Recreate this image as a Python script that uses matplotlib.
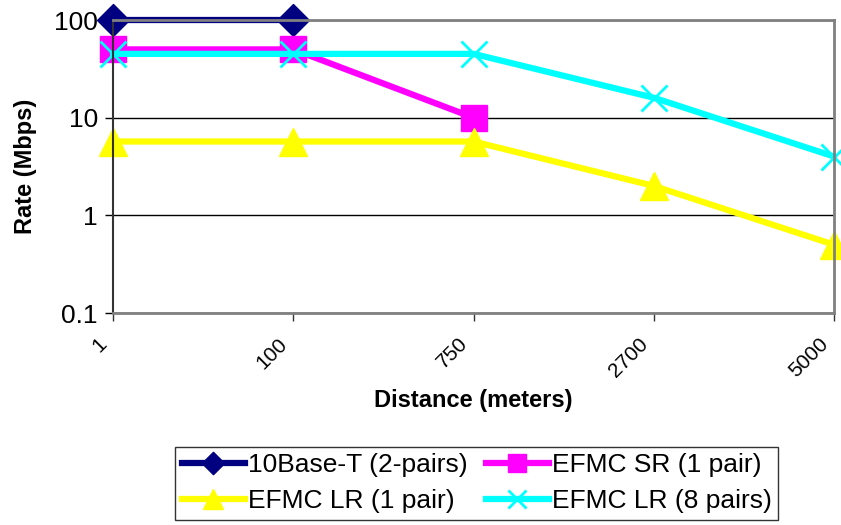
import numpy as np
import matplotlib
matplotlib.use("Agg")
import matplotlib.pyplot as plt
from matplotlib.ticker import FixedLocator, NullLocator
from matplotlib.transforms import ScaledTranslation

plt.rcParams['font.family'] = ['Liberation Sans', 'DejaVu Sans']

# data
distances = ["1", "100", "750", "2700", "5000"]
base_t = [100, 100]
efmc_sr = [50, 50, 10]
efmc_lr1 = [5.7, 5.7, 5.7, 2.0, 0.5]
efmc_lr8 = [45, 45, 45, 16, 4]

labels = ["10Base-T (2-pairs)", "EFMC SR (1 pair)", "EFMC LR (1 pair)", "EFMC LR (8 pairs)"]

fig = plt.figure(figsize=(8.41, 5.25), dpi=100)
ax = fig.add_axes([0.1344, 0.4038, 0.8573, 0.5581])

x = np.arange(len(distances))
diamond = [(-1, 0), (0, 1), (1, 0), (0, -1), (-1, 0)]

l1, = ax.plot(x[:len(base_t)], base_t, color="#000080", lw=4.5, marker=diamond, ms=23,
              clip_on=False, label=labels[0])
l2, = ax.plot(x[:len(efmc_sr)], efmc_sr, color="#FF00FF", lw=4.5, marker="s", ms=19,
              clip_on=False, label=labels[1])
l3, = ax.plot(x, efmc_lr1, color="#FFFF00", lw=4.5, marker="^", ms=20,
              clip_on=False, label=labels[2])
l4, = ax.plot(x, efmc_lr8, color="#00FFFF", lw=4.5, marker="x", ms=19, mew=2,
              clip_on=False, label=labels[3])

ax.set_yscale("log")
ax.set_ylim(0.1, 100)
ax.set_xlim(0, len(distances) - 1)
ax.yaxis.set_major_locator(FixedLocator([0.1, 1, 10, 100]))
ax.yaxis.set_minor_locator(NullLocator())
ax.set_yticklabels(["0.1", "1", "10", "100"])
ax.set_xticks(x)
ax.set_xticklabels(distances, rotation=45, ha="right", va="center",
                   rotation_mode="anchor")

ax.grid(axis="y", color="black", lw=1)
ax.set_axisbelow(True)

for s in ["top", "right", "bottom"]:
    ax.spines[s].set_color("#808080")
    ax.spines[s].set_linewidth(2)
ax.spines["left"].set_color("#333333")
ax.spines["left"].set_linewidth(1.5)

ax.tick_params(axis="y", length=6, width=1, labelsize=19, pad=5)
ax.tick_params(axis="x", length=6, width=1, color="#333333", labelsize=15, pad=14)

# the original labels sit a little left of their ticks (after tick_params, which resets transforms)
shift = ScaledTranslation(-9 / 100, 0, fig.dpi_scale_trans)
for lbl in ax.get_xticklabels():
    lbl.set_transform(lbl.get_transform() + shift)

ax.set_xlabel("Distance (meters)", fontsize=17, fontweight="bold", labelpad=6)
ax.set_ylabel("Rate (Mbps)", fontsize=17, fontweight="bold", labelpad=12)

# row-major order like the original legend
leg = fig.legend([l1, l3, l2, l4], [labels[0], labels[2], labels[1], labels[3]],
                 loc="upper center", bbox_to_anchor=(0.5666, 0.149), ncol=2,
                 fontsize=19, frameon=True, fancybox=False, handlelength=2.4,
                 handletextpad=0.1, columnspacing=0.7, labelspacing=0.45,
                 markerscale=0.7, borderpad=0.25, borderaxespad=0)
leg.get_frame().set_edgecolor("black")
leg.get_frame().set_linewidth(1)

fig.savefig("out.png", dpi=100)
